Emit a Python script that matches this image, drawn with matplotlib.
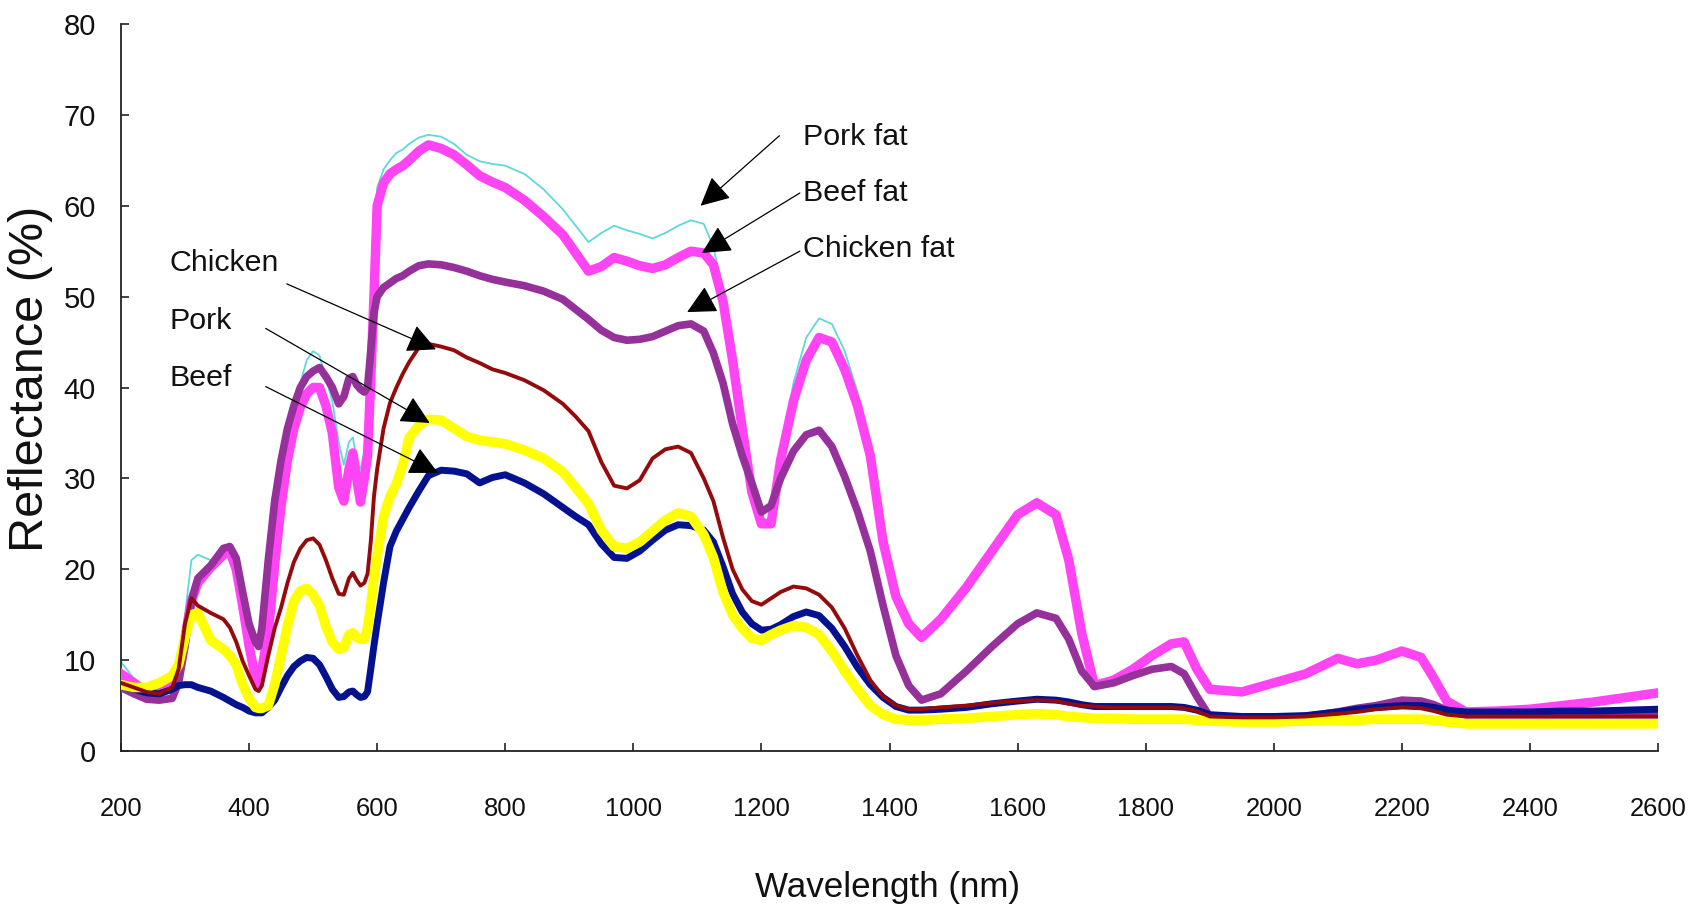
import matplotlib
matplotlib.use("Agg")
import matplotlib.pyplot as plt
from matplotlib import font_manager as fm

# ---------------- data ----------------
wavelength = [200, 220, 240, 260, 280, 290, 300, 310, 320, 340,
              360, 370, 380, 390, 400, 410, 415, 420, 430, 440,
              450, 460, 470, 480, 490, 500, 510, 520, 530, 540,
              548, 556, 562, 568, 574, 580, 585, 590, 595, 600,
              610, 620, 630, 640, 650, 665, 680, 700, 720, 740,
              760, 780, 800, 830, 860, 890, 910, 930, 950, 970,
              990, 1010, 1030, 1050, 1070, 1090, 1110, 1125, 1140, 1155,
              1170, 1185, 1200, 1215, 1230, 1250, 1270, 1290, 1310, 1330,
              1350, 1370, 1390, 1410, 1430, 1450, 1480, 1520, 1560, 1600,
              1630, 1660, 1680, 1700, 1720, 1750, 1780, 1810, 1840, 1860,
              1880, 1900, 1950, 2000, 2050, 2100, 2130, 2160, 2200, 2230,
              2250, 2270, 2300, 2350, 2400, 2450, 2500, 2550, 2600]

pork_fat = [9.8, 8.0, 7.0, 6.8, 7.8, 9.0, 15.0, 21.0, 21.6, 21.0,
            22.0, 22.4, 20.5, 16.5, 12.0, 8.5, 7.8, 9.5, 13.5, 21.0,
            28.5, 34.0, 37.5, 40.5, 43.0, 44.0, 43.5, 41.0, 38.5, 34.0,
            31.5, 34.0, 34.5, 32.0, 31.0, 33.0, 35.0, 42.0, 52.0, 62.0,
            64.0, 65.0, 65.8, 66.2, 66.8, 67.5, 67.8, 67.6, 66.8, 65.6,
            64.9, 64.6, 64.4, 63.5, 61.8, 59.6, 57.8, 56.0, 57.0, 57.8,
            57.3, 56.9, 56.4, 57.0, 57.8, 58.4, 58.0, 55.5, 50.5, 44.0,
            36.5, 29.5, 25.5, 25.5, 32.5, 40.5, 45.5, 47.6, 47.0, 44.0,
            39.5, 33.0, 23.5, 17.0, 14.2, 12.8, 14.8, 18.3, 22.4, 26.4,
            27.8, 26.4, 21.3, 13.2, 7.6, 7.9, 9.1, 10.7, 12.1, 12.4,
            9.2, 6.9, 6.6, 7.6, 8.6, 10.3, 9.7, 10.1, 11.1, 10.4,
            8.1, 5.6, 4.4, 4.5, 4.7, 5.1, 5.5, 6.0, 6.5]

beef_fat = [8.5, 7.5, 6.5, 6.3, 7.5, 8.5, 12.5, 16.5, 18.5, 20.2,
            21.6, 22.0, 20.0, 16.0, 11.6, 8.0, 7.3, 9.0, 13.0, 20.5,
            27.0, 32.0, 35.5, 37.8, 39.3, 40.0, 40.0, 38.0, 35.0, 29.0,
            27.5, 31.0, 32.8, 30.0, 27.4, 30.0, 32.5, 40.9, 50.0, 60.0,
            62.5, 63.5, 64.0, 64.4, 65.0, 66.0, 66.7, 66.3, 65.6, 64.5,
            63.3, 62.6, 62.0, 60.6, 58.8, 56.8, 54.8, 52.8, 53.3, 54.3,
            53.9, 53.4, 53.1, 53.5, 54.3, 55.0, 54.8, 53.5, 49.5, 43.0,
            35.5, 28.5, 25.0, 25.0, 32.0, 38.5, 43.0, 45.5, 45.0, 42.0,
            38.0, 32.5, 23.0, 17.0, 14.0, 12.5, 14.5, 18.0, 22.0, 26.0,
            27.3, 26.0, 21.0, 13.0, 7.2, 7.8, 9.0, 10.5, 11.8, 12.0,
            9.0, 6.8, 6.5, 7.5, 8.5, 10.2, 9.6, 10.0, 11.0, 10.3,
            8.0, 5.5, 4.3, 4.4, 4.6, 5.0, 5.4, 5.9, 6.4]

chicken_fat = [7.0, 6.3, 5.7, 5.6, 5.8, 7.5, 11.5, 16.5, 19.0, 20.4,
               22.3, 22.5, 21.2, 17.5, 14.0, 12.0, 11.5, 13.5, 21.0, 27.5,
               32.0, 35.5, 38.0, 40.0, 41.2, 41.8, 42.2, 41.2, 40.0, 38.2,
               39.0, 41.0, 41.2, 40.3, 39.8, 39.5, 40.0, 44.0, 48.2, 50.0,
               51.0, 51.5, 52.0, 52.3, 52.8, 53.4, 53.6, 53.5, 53.2, 52.8,
               52.3, 51.9, 51.6, 51.2, 50.6, 49.7, 48.6, 47.5, 46.3, 45.5,
               45.2, 45.3, 45.6, 46.2, 46.8, 47.0, 46.2, 43.8, 40.5, 36.0,
               32.5, 29.5, 26.3, 27.0, 30.0, 33.0, 34.8, 35.3, 33.5, 30.2,
               26.4, 22.0, 16.0, 10.5, 7.2, 5.6, 6.3, 8.8, 11.5, 14.0,
               15.2, 14.6, 12.3, 8.8, 7.1, 7.5, 8.3, 9.0, 9.3, 8.5,
               6.0, 3.8, 3.6, 3.6, 3.8, 4.3, 4.7, 5.0, 5.6, 5.5,
               5.1, 4.5, 4.0, 4.0, 4.0, 4.0, 4.0, 4.0, 4.0]

chicken = [7.5, 7.0, 6.5, 6.3, 7.0, 9.0, 14.0, 16.8, 16.0, 15.2,
           14.5, 13.6, 12.0, 9.9, 8.3, 6.8, 6.6, 7.2, 10.5, 13.5,
           15.8, 18.5, 20.8, 22.3, 23.2, 23.4, 22.7, 21.0, 19.0, 17.3,
           17.2, 19.0, 19.6, 18.8, 18.2, 18.5, 19.5, 23.0, 28.0, 31.0,
           35.5, 38.3, 40.0, 41.5, 42.8, 44.4, 44.8, 44.5, 44.1, 43.3,
           42.7, 42.0, 41.6, 40.8, 39.7, 38.2, 36.8, 35.2, 31.8, 29.2,
           28.9, 29.8, 32.2, 33.2, 33.5, 32.8, 30.0, 27.5, 23.5, 20.0,
           17.8, 16.5, 16.1, 16.8, 17.5, 18.1, 17.9, 17.2, 15.8, 13.5,
           10.5, 7.8, 6.0, 5.0, 4.6, 4.6, 4.8, 5.0, 5.3, 5.5,
           5.6, 5.5, 5.2, 5.0, 4.9, 4.8, 4.8, 4.8, 4.8, 4.7,
           4.4, 3.8, 3.7, 3.7, 3.8, 4.1, 4.3, 4.6, 4.8, 4.7,
           4.4, 4.0, 3.8, 3.8, 3.8, 3.8, 3.8, 3.8, 3.8]

pork = [7.3, 7.0, 7.0, 7.5, 8.3, 9.5, 12.5, 15.0, 15.2, 12.2,
        11.2, 10.5, 9.5, 7.3, 5.8, 4.8, 4.7, 4.7, 5.0, 7.3,
        10.5, 13.8, 16.5, 17.6, 17.9, 17.2, 16.0, 13.7, 12.0, 11.2,
        11.4, 12.8, 13.0, 12.5, 12.3, 12.3, 13.5, 16.0, 19.0, 21.5,
        25.8, 28.0, 29.4, 31.5, 34.5, 35.8, 36.5, 36.4, 35.5, 34.6,
        34.2, 34.0, 33.8, 33.1, 32.2, 30.7, 29.0, 27.2, 24.3, 22.5,
        22.3, 23.0, 24.2, 25.4, 26.2, 25.8, 23.8, 21.3, 17.5, 15.0,
        13.5, 12.4, 12.2, 12.8, 13.3, 13.8, 13.6, 12.8, 11.0, 8.8,
        6.8, 5.0, 4.0, 3.5, 3.4, 3.4, 3.5, 3.6, 3.8, 4.0,
        4.1, 4.0, 3.8, 3.7, 3.6, 3.6, 3.5, 3.5, 3.5, 3.5,
        3.4, 3.3, 3.2, 3.2, 3.3, 3.4, 3.4, 3.5, 3.5, 3.5,
        3.4, 3.2, 3.0, 3.0, 3.0, 3.0, 3.0, 3.0, 3.0]

beef = [7.2, 6.8, 6.4, 6.3, 6.8, 7.2, 7.3, 7.3, 7.0, 6.6,
        5.9, 5.5, 5.1, 4.8, 4.4, 4.2, 4.2, 4.2, 4.8, 5.6,
        7.0, 8.3, 9.3, 9.9, 10.3, 10.2, 9.5, 8.2, 6.8, 5.9,
        6.0, 6.5, 6.6, 6.2, 5.9, 6.0, 6.5, 9.0, 11.6, 14.0,
        18.5, 22.5, 24.2, 25.5, 26.8, 28.6, 30.3, 30.9, 30.8, 30.5,
        29.5, 30.1, 30.4, 29.5, 28.3, 26.8, 25.8, 24.9, 22.8, 21.3,
        21.2, 22.0, 23.2, 24.3, 24.9, 24.8, 24.3, 23.0, 20.3, 17.3,
        15.3, 14.0, 13.3, 13.4, 13.9, 14.8, 15.3, 14.9, 13.5, 11.5,
        9.2, 7.3, 5.9, 4.9, 4.5, 4.5, 4.6, 4.8, 5.2, 5.5,
        5.7, 5.6, 5.4, 5.1, 4.9, 4.9, 4.9, 4.9, 4.9, 4.8,
        4.5, 4.0, 3.8, 3.8, 3.9, 4.3, 4.6, 4.8, 5.0, 5.0,
        4.8, 4.5, 4.3, 4.3, 4.3, 4.4, 4.4, 4.5, 4.6]

x_ticks = [200, 400, 600, 800, 1000, 1200, 1400, 1600, 1800, 2000, 2200, 2400, 2600]
y_ticks = [0, 10, 20, 30, 40, 50, 60, 70, 80]

# annotations: label, text position, arrow tail, arrow tip (data coords)
labels = ["Pork fat", "Beef fat", "Chicken fat", "Chicken", "Pork", "Beef"]
text_pos = [(1265, 67.6), (1265, 61.4), (1265, 55.2), (276, 53.7), (276, 47.3), (276, 41.1)]
arrow_tail = [(1228, 67.7), (1260, 61.4), (1260, 55.0), (459, 51.4), (426, 46.5), (426, 40.1)]
arrow_tip = [(1105, 60.0), (1107, 54.8), (1084, 48.3), (692, 44.2), (682, 36.1), (695, 30.6)]


# ---------------- fonts ----------------
def has_font(name):
    try:
        fm.findfont(fm.FontProperties(family=name), fallback_to_default=False)
        return True
    except Exception:
        return False

if has_font("Liberation Sans Narrow"):
    NARROW = ["Liberation Sans Narrow", "Liberation Sans", "DejaVu Sans"]
    k = 1.0
else:
    NARROW = ["Liberation Sans", "DejaVu Sans"]
    k = 0.84
REG = ["Liberation Sans", "DejaVu Sans"]

# ---------------- figure ----------------
fig = plt.figure(figsize=(16.99, 9.15), dpi=100)
ax = fig.add_axes([0.0712, 0.1792, 0.9047, 0.7946])

ax.plot(wavelength, pork_fat, color="#5fd8dc", lw=1.3, zorder=2)
ax.plot(wavelength, beef_fat, color="#ff44f4", lw=6.8, zorder=3, solid_joinstyle="round")
ax.plot(wavelength, chicken_fat, color="#96309a", lw=5.5, zorder=4, solid_joinstyle="round")
ax.plot(wavelength, beef, color="#05128f", lw=5.0, zorder=5, solid_joinstyle="round")
ax.plot(wavelength, pork, color="#ffff00", lw=7.0, zorder=6, solid_joinstyle="round")
ax.plot(wavelength, chicken, color="#950a0a", lw=2.8, zorder=7, solid_joinstyle="round")

ax.set_xlim(200, 2600)
ax.set_ylim(0, 80)
ax.set_xticks(x_ticks)
ax.set_yticks(y_ticks)
for s in ("top", "right"):
    ax.spines[s].set_visible(False)
for s in ("left", "bottom"):
    ax.spines[s].set_linewidth(1.3)
    ax.spines[s].set_color("#222222")

ax.tick_params(axis="both", direction="in", length=6, width=1.2, color="#222222")
ax.tick_params(axis="x", pad=33)
ax.tick_params(axis="y", pad=18)
for lab in ax.get_xticklabels():
    lab.set_fontfamily(NARROW)
    lab.set_fontsize(22 * k)
    lab.set_color("#111111")
for lab in ax.get_yticklabels():
    lab.set_fontfamily(REG)
    lab.set_fontsize(21)
    lab.set_color("#111111")

for lbl, tp, tail, tip in zip(labels, text_pos, arrow_tail, arrow_tip):
    ax.text(tp[0], tp[1], lbl, ha="left", va="center", fontsize=26 * k,
            family=NARROW, color="#111111", zorder=10)
    ax.annotate("", xy=tip, xytext=tail,
                arrowprops=dict(arrowstyle="-|>,head_length=0.6,head_width=0.3",
                                color="black", lw=0.9, mutation_scale=30,
                                shrinkA=0, shrinkB=0),
                zorder=11)

fig.text(31 / 1699, 1 - 379 / 915, "Reflectance (%)", rotation=90,
         ha="center", va="center", fontsize=35, family=REG, color="#111111")
fig.text(888 / 1699, 1 - 888 / 915, "Wavelength (nm)", ha="center", va="center",
         fontsize=30 * k, family=NARROW, color="#111111")

fig.savefig("out.png", dpi=100, facecolor="white")
